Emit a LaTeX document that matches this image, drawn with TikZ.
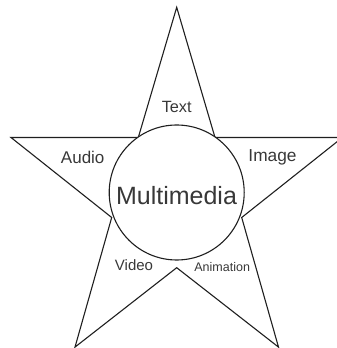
\documentclass[tikz,border=0pt]{standalone}
\usepackage{fontspec}
\setmainfont{Liberation Sans}
\begin{document}
\begin{tikzpicture}[x=1pt,y=1pt,
  outline/.style={draw=black!88, line width=1.1pt, line join=miter},
  lbl/.style={anchor=base, inner sep=0pt, text=black!78}]
\useasboundingbox (0,0) rectangle (337,348);
\clip (0,0) rectangle (337,348);
% star vertices
\coordinate (T) at (176.7,340.7);
\coordinate (ITR) at (215,210.5);
\coordinate (R) at (342.4,210.5);
\coordinate (IR) at (241.7,130.5);
\coordinate (BR) at (278.5,0.9);
\coordinate (IB) at (176.7,80.3);
\coordinate (BL) at (75,0.9);
\coordinate (IL) at (111.7,130.5);
\coordinate (L) at (11,210.5);
\coordinate (ITL) at (138.3,210.5);
\draw[outline] (T) -- (ITR) -- (R) -- (IR) -- (BR) -- (IB) -- (BL) -- (IL) -- (L) -- (ITL) -- cycle;
\coordinate (C) at (176.7,155.5);
\draw[outline, fill=white] (C) circle[radius=67.5];
\node[lbl, font=\fontsize{25}{28}\selectfont] (multi) at (176.5,143) {Multimedia};
\node[lbl, font=\fontsize{16.3}{19}\selectfont] (text) at (176.7,235.7) {Text};
\node[lbl, font=\fontsize{17}{20}\selectfont] (audio) at (82.7,184) {Audio};
\node[lbl, font=\fontsize{17.3}{20}\selectfont] (image) at (272.5,186.3) {Image};
\node[lbl, font=\fontsize{15}{18}\selectfont] (video) at (134,77.3) {Video};
\node[lbl, font=\fontsize{12.5}{15}\selectfont] (anim) at (222.2,76.7) {Animation};
\end{tikzpicture}
\end{document}
